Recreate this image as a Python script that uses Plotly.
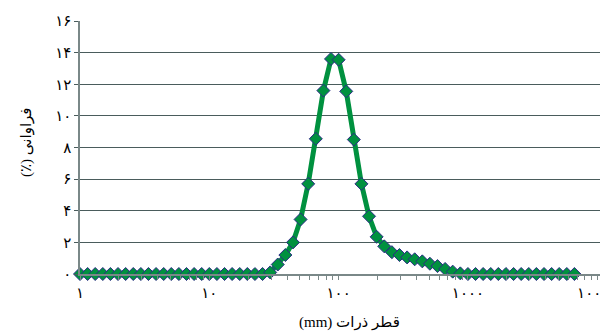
import plotly.graph_objects as go

# particle diameter bins (mm), log-spaced
diameters = [
    1.0, 1.145, 1.311, 1.501, 1.719, 1.968, 2.254, 2.581, 2.955, 3.384, 3.875, 4.437, 5.08, 5.817, 6.661, 7.627, 8.733,
    10.0, 11.45, 13.11, 15.01, 17.19, 19.68, 22.54, 25.81, 29.55, 33.84, 38.75, 44.37, 50.8, 58.17, 66.61, 76.27, 87.33,
    100.0, 114.5, 131.1, 150.1, 171.9, 196.8, 225.4, 258.1, 295.5, 338.4, 387.5, 443.7, 508.0, 581.7, 666.1, 762.7, 873.3,
    1000.0, 1145.0, 1311.0, 1501.0, 1719.0, 1968.0, 2254.0, 2581.0, 2955.0, 3384.0, 3875.0, 4437.0, 5080.0, 5817.0, 6661.0,
]
# frequency (%)
frequency = [
    0, 0, 0, 0, 0, 0, 0, 0, 0, 0, 0, 0, 0, 0, 0, 0, 0,
    0, 0, 0, 0, 0, 0, 0, 0, 0.1, 0.6, 1.2, 2.0, 3.45, 5.7, 8.55, 11.6, 13.6,
    13.55, 11.55, 8.5, 5.7, 3.65, 2.35, 1.75, 1.38, 1.2, 1.05, 0.93, 0.8, 0.65, 0.5, 0.32, 0.15, 0.04,
    0, 0, 0, 0, 0, 0, 0, 0, 0, 0, 0, 0, 0, 0, 0,
]

y_tickvals = [0, 2, 4, 6, 8, 10, 12, 14, 16]
y_ticktext = ["۰", "۲", "۴", "۶", "۸", "۱۰", "۱۲", "۱۴", "۱۶"]
x_tickvals = [1, 10, 100, 1000, 10000]
x_ticktext = ["۱", "۱۰", "۱۰۰", "۱۰۰۰", "۱۰۰۰۰"]

RLE, PDF = "\u202b", "\u202c"
x_title = RLE + "قطر ذرات (mm)" + PDF
y_title = RLE + "فراوانی (٪)" + PDF

FONT = "Liberation Serif, DejaVu Sans, serif"
GREEN = "#00913f"
NAVY = "#2b2b86"
GRID = "#4a5c5c"
AXIS = "#7a8888"

W, H = 608, 334
l, r, t, b = 72, 11, 13, 68
OFF = 8  # page body margin offset

fig = go.Figure()
fig.add_trace(go.Scatter(
    x=diameters, y=frequency, mode="lines+markers",
    line=dict(color=GREEN, width=5),
    marker=dict(symbol="diamond", size=10, color=GREEN, line=dict(color=NAVY, width=1)),
    cliponaxis=False, showlegend=False,
))

pw, ph = W - l - r, H - t - b


def paper_x(px):
    return (px - OFF - l) / pw


def paper_y(py):
    return (H - b - (py - OFF)) / ph


fig.update_layout(
    width=W, height=H,
    margin=dict(l=l, r=r, t=t, b=b, autoexpand=False),
    paper_bgcolor="white", plot_bgcolor="white",
    font=dict(family=FONT, size=14, color="black"),
    xaxis=dict(
        type="log", range=[0, 4.06], automargin=False,
        tickvals=x_tickvals, ticktext=x_ticktext,
        ticks="outside", ticklen=4, tickcolor=AXIS,
        showgrid=False, zeroline=False,
        showline=True, linecolor=AXIS, linewidth=1.5,
        minor=dict(ticks="outside", ticklen=4, tickcolor=AXIS, dtick="D1", showgrid=False),
        tickfont=dict(size=15), ticklabeloverflow="allow",
    ),
    yaxis=dict(
        range=[0, 16], tickvals=y_tickvals, ticktext=y_ticktext, automargin=False,
        ticks="outside", ticklen=4, tickcolor=GRID,
        showgrid=True, gridcolor=GRID, gridwidth=1,
        zeroline=False, showline=True, linecolor=AXIS, linewidth=1.5,
        tickfont=dict(size=15),
    ),
    annotations=[
        dict(text=x_title, x=paper_x(349), y=paper_y(322), xref="paper", yref="paper",
             xanchor="center", yanchor="middle",
             showarrow=False, font=dict(size=15, family=FONT)),
        dict(text=y_title, x=paper_x(26), y=paper_y(142), xref="paper", yref="paper",
             xanchor="center", yanchor="middle",
             showarrow=False, textangle=-90, font=dict(size=15, family=FONT)),
    ],
)

fig.write_html("out.html")
